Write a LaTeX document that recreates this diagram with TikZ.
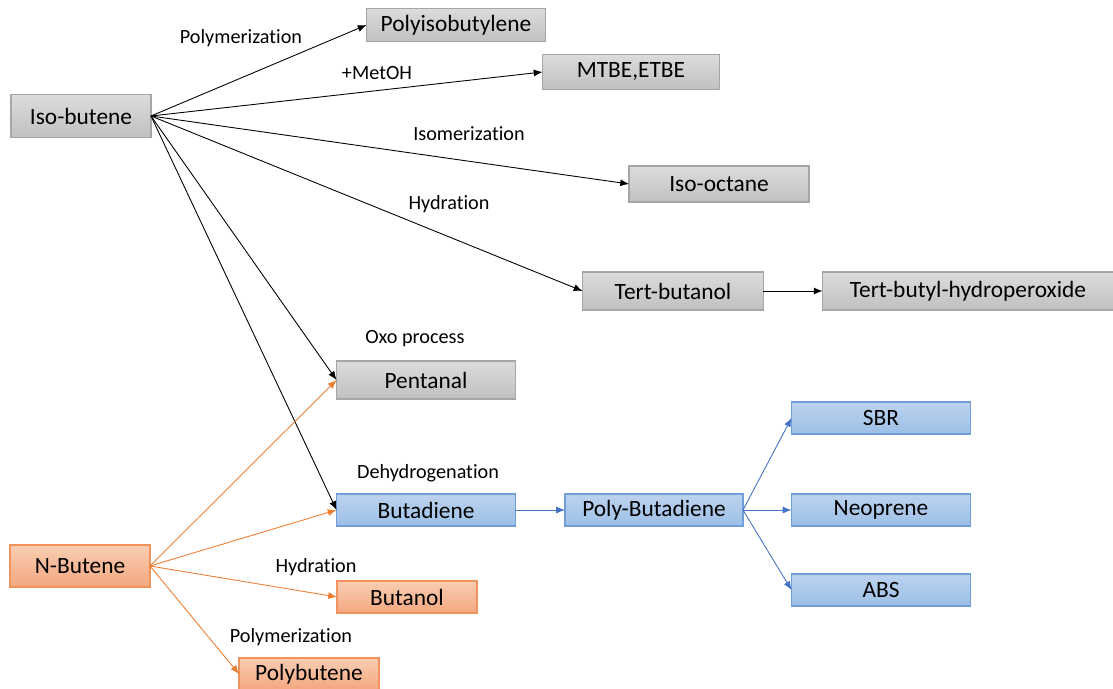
\documentclass[tikz,border=0pt]{standalone}
\usepackage{fontspec}
\setmainfont[Ligatures=NoCommon]{Carlito}
\usetikzlibrary{arrows.meta}
\definecolor{grayline}{HTML}{A6A6A6}
\definecolor{graytop}{HTML}{DCDCDC}
\definecolor{graybot}{HTML}{C0C0C0}
\definecolor{blueline}{HTML}{6F9ED8}
\definecolor{bluetop}{HTML}{BCD3EF}
\definecolor{bluebot}{HTML}{9CBFE6}
\definecolor{orangeline}{HTML}{F0935C}
\definecolor{orangetop}{HTML}{F9CDB2}
\definecolor{orangebot}{HTML}{F4A77F}
\definecolor{orangearrow}{HTML}{ED7D31}
\definecolor{bluearrow}{HTML}{4472C4}
\tikzset{
  box/.style={draw, line width=0.6pt, inner sep=0pt, outer sep=0pt,
    font=\fontsize{13.3}{15}\selectfont},
  graybox/.style={box, draw=grayline, top color=graytop, bottom color=graybot},
  bluebox/.style={box, draw=blueline, top color=bluetop, bottom color=bluebot},
  orangebox/.style={box, draw=orangeline, top color=orangetop, bottom color=orangebot},
  lbl/.style={font=\fontsize{11.5}{13}\selectfont},
  arr/.style={-{Latex[length=5pt,width=4pt]}, line width=0.5pt}
}
\begin{document}
\begin{tikzpicture}[x=0.02cm,y=-0.02cm]
\useasboundingbox (0,0) rectangle (1113,689);
% iso-butene and its products
\node[graybox, minimum width=2.8cm, minimum height=0.86cm] (isob) at (81,116) {Iso-butene};
\node[graybox, minimum width=3.58cm, minimum height=0.66cm] (pib) at (456,25) {Polyisobutylene};
\node[graybox, minimum width=3.54cm, minimum height=0.70cm] (mtbe) at (631,72) {MTBE,ETBE};
\node[graybox, minimum width=3.6cm, minimum height=0.72cm] (isoo) at (719,184) {Iso-octane};
\node[graybox, minimum width=3.62cm, minimum height=0.76cm] (tbut) at (673,291) {Tert-butanol};
\node[graybox, minimum width=5.82cm, minimum height=0.76cm] (tbhp) at (968,291) {Tert-butyl-hydroperoxide};
\node[graybox, minimum width=3.58cm, minimum height=0.76cm] (pent) at (426,380) {Pentanal};
% butadiene chain
\node[bluebox, minimum width=3.58cm, minimum height=0.64cm] (butd) at (426,510) {Butadiene};
\node[bluebox, minimum width=3.56cm, minimum height=0.64cm] (pbd) at (654,510) {Poly-Butadiene};
\node[bluebox, minimum width=3.58cm, minimum height=0.64cm] (sbr) at (881,418) {SBR};
\node[bluebox, minimum width=3.58cm, minimum height=0.64cm] (neo) at (881,510) {Neoprene};
\node[bluebox, minimum width=3.58cm, minimum height=0.64cm] (abs) at (881,590) {ABS};
% n-butene and its products
\node[orangebox, minimum width=2.8cm, minimum height=0.84cm] (nbut) at (80,566) {N-Butene};
\node[orangebox, minimum width=2.8cm, minimum height=0.64cm] (buol) at (407,597) {Butanol};
\node[orangebox, minimum width=2.8cm, minimum height=0.64cm] (pbut) at (309,674) {Polybutene};
% labels
\node[lbl] (l1) at (241,38) {Polymerization};
\node[lbl] (l2) at (377,73) {+MetOH};
\node[lbl] (l3) at (469,134) {Isomerization};
\node[lbl] (l4) at (449,204) {Hydration};
\node[lbl] (l5) at (415,339) {Oxo process};
\node[lbl] (l6) at (428,473) {Dehydrogenation};
\node[lbl] (l7) at (316,567) {Hydration};
\node[lbl] (l8) at (291,637) {Polymerization};
% arrows
\foreach \t in {pib,mtbe,isoo,tbut,pent,butd}
  \draw[arr] (isob.east) -- (\t.west);
\draw[arr] (tbut.east) -- (tbhp.west);
\foreach \t in {pent,butd,buol,pbut}
  \draw[arr, orangearrow] (nbut.east) -- (\t.west);
\draw[arr, bluearrow] (butd.east) -- (pbd.west);
\foreach \t in {sbr,neo,abs}
  \draw[arr, bluearrow] (pbd.east) -- (\t.west);
\end{tikzpicture}
\end{document}
